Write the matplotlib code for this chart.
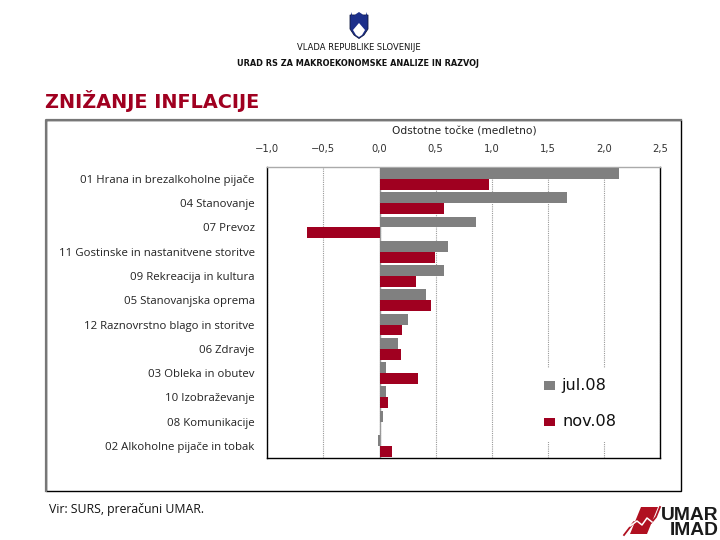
import matplotlib
matplotlib.use("Agg")
import matplotlib.pyplot as plt
from matplotlib.patches import Rectangle, Polygon

categories = ["01 Hrana in brezalkoholne pijače", "04 Stanovanje", "07 Prevoz",
              "11 Gostinske in nastanitvene storitve", "09 Rekreacija in kultura",
              "05 Stanovanjska oprema", "12 Raznovrstno blago in storitve", "06 Zdravje",
              "03 Obleka in obutev", "10 Izobraževanje", "08 Komunikacije",
              "02 Alkoholne pijače in tobak"]
jul08 = [2.13, 1.67, 0.86, 0.61, 0.57, 0.41, 0.25, 0.16, 0.06, 0.06, 0.03, -0.01]
nov08 = [0.97, 0.57, -0.65, 0.49, 0.32, 0.46, 0.20, 0.19, 0.34, 0.075, 0.00, 0.11]
ticks = [-1.0, -0.5, 0.0, 0.5, 1.0, 1.5, 2.0, 2.5]
GREY = "#808080"
RED = "#A00020"
W, H = 720, 540

fig = plt.figure(figsize=(7.2, 5.4), dpi=100, facecolor="white")
bg = fig.add_axes([0, 0, 1, 1])
bg.set_xlim(0, W); bg.set_ylim(H, 0); bg.axis("off")

# outer frame
bg.add_patch(Rectangle((46, 119.5), 635, 371, fill=False, ec="black", lw=1.0))
bg.plot([46, 46, 681], [491, 119.5, 119.5], color="#777777", lw=1.6)

# header
bg.text(358.5, 48, "VLADA REPUBLIKE SLOVENIJE", ha="center", va="center", fontsize=6.05, family="DejaVu Sans", color="#111111")
bg.text(358, 64, "URAD RS ZA MAKROEKONOMSKE ANALIZE IN RAZVOJ", ha="center", va="center", fontsize=5.85, family="DejaVu Sans", weight="bold", color="#111111")
bg.text(45, 100.5, "ZNIŽANJE INFLACIJE", ha="left", va="center", fontsize=13.9, family="DejaVu Sans", weight="bold", color=RED)
bg.text(49, 510, "Vir: SURS, preračuni UMAR.", ha="left", va="center", fontsize=8.85, family="Open Sans", color="#111111")

# coat of arms
bg.add_patch(Polygon([(350, 15), (368, 15), (368, 29), (364, 35), (359, 38.5), (354, 35), (350, 29)], closed=True, fc="#1c2f8a", ec="#101840", lw=0.6))
bg.add_patch(Polygon([(353, 30), (359, 23), (365, 30), (362, 35), (359, 37), (356, 35)], closed=True, fc="white", ec="none"))
bg.add_patch(Polygon([(351, 12), (353, 17), (356, 14), (359, 12), (362, 14), (365, 17), (367, 12), (367, 18), (351, 18)], closed=True, fc="#1c2f8a", ec="none"))

# logo
bg.add_patch(Polygon([(641, 507), (658, 507), (647, 534), (630, 534)], closed=True, fc="#B01020", ec="none"))
bg.plot([624, 634, 640, 646, 651, 656, 660], [535, 522, 526, 519, 523, 517, 507], color="#B01020", lw=1.3)
bg.plot([630, 637, 642, 647, 652], [526, 521, 525, 518, 522], color="white", lw=1.1)
bg.text(718.5, 515, "UMAR", ha="right", va="center", fontsize=13.9, family="Liberation Sans", weight="bold", color="#1a1a1a")
bg.text(718.5, 530.5, "IMAD", ha="right", va="center", fontsize=13.9, family="Liberation Sans", weight="bold", color="#1a1a1a")

# chart
left, right, top, bottom = 267.3, 660.3, 166.8, 458.0
ax = fig.add_axes([left / W, 1 - bottom / H, (right - left) / W, (bottom - top) / H])
ax.set_facecolor("none")
y = list(range(len(categories)))
ax.barh([i - 0.225 for i in y], jul08, height=0.45, color=GREY, zorder=3)
ax.barh([i + 0.225 for i in y], nov08, height=0.45, color=RED, zorder=3)
ax.axvline(0, color="#999999", lw=1.0, zorder=2)
ax.set_xlim(-1.0, 2.5)
ax.set_ylim(len(categories) - 0.5, -0.5)
ax.xaxis.tick_top()
ax.set_xticks(ticks)
ax.set_xticklabels([f"{t:.1f}".replace(".", ",").replace("-", "\u2212") for t in ticks],
                   fontsize=7.2, family="DejaVu Sans", color="#333333")
ax.set_yticks(y)
ax.set_yticklabels(categories, fontsize=8.2, family="Open Sans", color="#222222")
ax.tick_params(length=0, axis="both")
ax.tick_params(axis="x", pad=9.5)
ax.tick_params(axis="y", pad=9)
ax.grid(axis="x", color="#999999", ls=(0, (1, 1)), lw=0.8, zorder=1)
for s in ["left", "right", "bottom"]:
    ax.spines[s].set_color("black"); ax.spines[s].set_linewidth(1.0)
ax.spines["top"].set_color("#aaaaaa"); ax.spines["top"].set_linewidth(1.0)

bg.text(464, 131, "Odstotne točke (medletno)", ha="center", va="center", fontsize=7.7, family="DejaVu Sans", color="#222222")

# legend, on an overlay above the chart; its white box hides the gridlines
top_ax = fig.add_axes([0, 0, 1, 1], zorder=10)
top_ax.set_xlim(0, W); top_ax.set_ylim(H, 0); top_ax.axis("off")
top_ax.add_patch(Rectangle((538, 368), 90, 74, fc="white", ec="none"))
top_ax.add_patch(Rectangle((544, 381), 11, 9, fc=GREY, ec="none"))
top_ax.add_patch(Rectangle((544, 418), 11, 8, fc=RED, ec="none"))
top_ax.text(561, 385.5, "jul.08", ha="left", va="center", fontsize=11.6, family="DejaVu Sans", color="#111111")
top_ax.text(562, 422, "nov.08", ha="left", va="center", fontsize=11.6, family="DejaVu Sans", color="#111111")

fig.savefig("out.png", dpi=100)
